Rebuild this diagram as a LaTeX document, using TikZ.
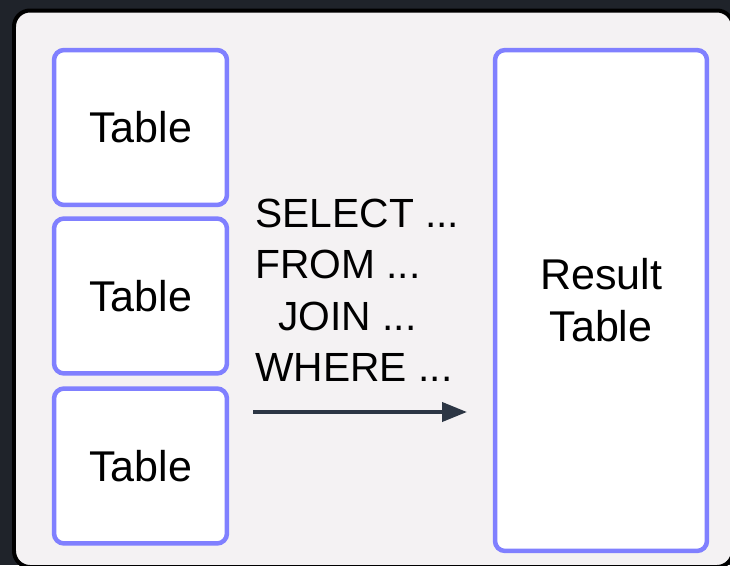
\documentclass[tikz,border=0pt]{standalone}
\usepackage{fontspec}
\setmainfont{Liberation Sans}
\definecolor{sqlbg}{RGB}{31,35,42}
\definecolor{sqlpanel}{RGB}{244,242,243}
\definecolor{sqlpurple}{RGB}{128,128,255}
\definecolor{sqlarrow}{RGB}{44,54,68}
\usetikzlibrary{arrows.meta,positioning}

\begin{document}
\begin{tikzpicture}[x=0.02cm, y=-0.02cm,
    tablebox/.style={draw=sqlpurple, fill=white, line width=0.09cm, rounded corners=0.2cm,
        minimum width=3.46cm, minimum height=3.1cm, inner sep=0pt,
        font=\fontsize{24.5}{29}\selectfont},
    querytext/.style={anchor=base west, inner sep=0pt, font=\fontsize{23.2}{29}\selectfont}]
    \useasboundingbox (0,0) rectangle (730,565);
    \fill[sqlbg] (0,0) rectangle (730,565);
    \draw[line width=0.08cm, rounded corners=0.32cm, fill=sqlpanel] (14,10.5) rectangle (733,567);

    \node[tablebox] (tab1) at (140.5,127.5) {Table};
    \node[tablebox] (tab2) at (140.5,296) {Table};
    \node[tablebox] (tab3) at (140.5,466) {Table};

    \node[tablebox, minimum width=4.24cm, minimum height=10.02cm, align=center,
        font=\fontsize{24.5}{29.6}\selectfont] (result) at (601,300.5) {Result\\Table};

    \node[querytext] (qselect) at (255,227) {SELECT ...};
    \node[querytext] (qfrom) at (255,278) {FROM ...};
    \node[querytext] (qjoin) at (278,330) {JOIN ...};
    \node[querytext] (qwhere) at (255,381) {WHERE ...};

    \coordinate (arrstart) at (253,412);
    \coordinate (arrend) at (467,412);
    \draw[sqlarrow, line width=0.08cm, -{Triangle[length=0.5cm, width=0.38cm]}] (arrstart) -- (arrend);
\end{tikzpicture}
\end{document}
